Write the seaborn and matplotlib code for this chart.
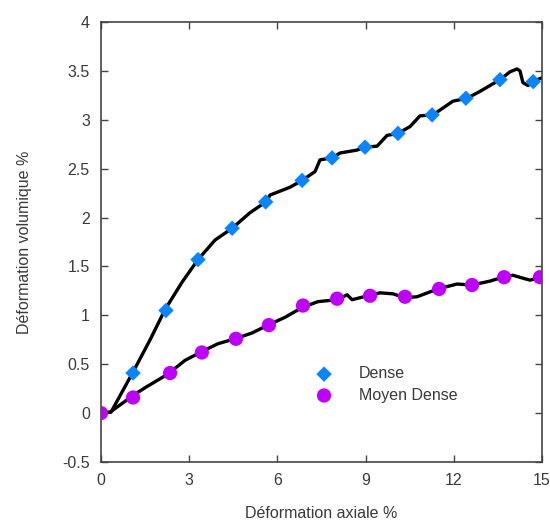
import matplotlib
matplotlib.use("Agg")
import matplotlib.pyplot as plt
import seaborn as sns
import pandas as pd

# Measured curves (axial strain %, volumetric strain %)
dense_curve_x = [0, 0.34, 1.09, 1.67, 2.18, 2.76, 3.30, 3.88, 4.46, 5.07, 5.61, 5.75,
                 6.43, 6.84, 7.28, 7.45, 7.86, 8.13, 8.71, 8.98, 9.39, 9.73, 10.10,
                 10.51, 10.85, 11.29, 11.97, 12.45, 12.89, 13.57, 13.91, 14.15, 14.25,
                 14.35, 14.52, 14.69, 15.0]
dense_curve_y = [0, 0.01, 0.42, 0.75, 1.06, 1.34, 1.57, 1.77, 1.89, 2.05, 2.16, 2.23,
                 2.31, 2.38, 2.47, 2.59, 2.61, 2.66, 2.69, 2.72, 2.73, 2.84, 2.86,
                 2.93, 3.04, 3.05, 3.19, 3.22, 3.29, 3.41, 3.49, 3.52, 3.50,
                 3.38, 3.35, 3.39, 3.43]

moyen_curve_x = [0, 0.31, 1.09, 1.50, 2.28, 2.86, 3.44, 3.98, 4.56, 5.14, 5.68, 6.26,
                 6.84, 7.38, 8.03, 8.37, 8.54, 9.08, 9.49, 9.93, 10.34, 10.75, 11.46,
                 12.11, 12.62, 13.23, 13.67, 14.01, 14.35, 14.59, 15.0]
moyen_curve_y = [0, 0.01, 0.18, 0.26, 0.40, 0.54, 0.63, 0.71, 0.76, 0.82, 0.90, 0.98,
                 1.08, 1.14, 1.16, 1.21, 1.16, 1.20, 1.23, 1.22, 1.18, 1.19, 1.27,
                 1.32, 1.31, 1.35, 1.39, 1.41, 1.38, 1.36, 1.39]

# Marker points for each state
dense_pts_x = [0, 1.09, 2.21, 3.30, 4.46, 5.60, 6.84, 7.86, 8.98, 10.10, 11.26, 12.41, 13.57, 14.70]
dense_pts_y = [0, 0.41, 1.05, 1.57, 1.89, 2.16, 2.38, 2.61, 2.72, 2.86, 3.05, 3.22, 3.41, 3.39]

moyen_pts_x = [0, 1.09, 2.35, 3.43, 4.59, 5.71, 6.87, 8.03, 9.15, 10.34, 11.50, 12.62, 13.71, 14.93]
moyen_pts_y = [0, 0.16, 0.41, 0.62, 0.76, 0.90, 1.10, 1.17, 1.20, 1.19, 1.27, 1.31, 1.39, 1.39]

x_ticks = [0, 3, 6, 9, 12, 15]
y_ticks = [-0.5, 0, 0.5, 1, 1.5, 2, 2.5, 3, 3.5, 4]
y_tick_labels = ["-0.5", "0", "0.5", "1", "1.5", "2", "2.5", "3", "3.5", "4"]

sns.set_theme(style="ticks")
plt.rcParams["font.family"] = ["Liberation Sans", "DejaVu Sans"]
text_color = "#3a3a3a"

fig = plt.figure(figsize=(5.5, 5.23), dpi=100)
ax = fig.add_axes([0.1836, 0.1166, 0.8019, 0.8414])

curves = pd.concat([
    pd.DataFrame({"x": dense_curve_x, "y": dense_curve_y, "s": "dense"}),
    pd.DataFrame({"x": moyen_curve_x, "y": moyen_curve_y, "s": "moyen"}),
])
sns.lineplot(data=curves, x="x", y="y", units="s", estimator=None, sort=False,
             color="black", linewidth=2.4, ax=ax, legend=False)

pts_dense = pd.DataFrame({"x": dense_pts_x, "y": dense_pts_y})
pts_moyen = pd.DataFrame({"x": moyen_pts_x, "y": moyen_pts_y})
sns.scatterplot(data=pts_dense, x="x", y="y", marker="D", s=62, color="#0A84FF",
                edgecolor="none", ax=ax, label="Dense", zorder=3)
sns.scatterplot(data=pts_moyen, x="x", y="y", marker="o", s=105, color="#BE00FA",
                edgecolor="none", ax=ax, label="Moyen Dense", zorder=4)

ax.set_xlim(0, 15)
ax.set_ylim(-0.5, 4)
ax.set_xticks(x_ticks)
ax.set_yticks(y_ticks)
ax.set_yticklabels(y_tick_labels)
ax.tick_params(direction="in", length=5, width=1, color="#444444",
               top=True, right=True, labelsize=11.5, labelcolor=text_color, pad=8)
for sp in ax.spines.values():
    sp.set_color("#444444")
    sp.set_linewidth(1.2)

ax.set_xlabel("Déformation axiale %", fontsize=11.5, color=text_color, labelpad=13)
ax.set_ylabel("Déformation volumique %", fontsize=11.5, color=text_color, labelpad=22)

leg = ax.legend(loc="upper left", bbox_to_anchor=(0.455, 0.232), frameon=False,
                fontsize=11.5, handletextpad=1.2, labelspacing=0.4,
                borderaxespad=0)
for t in leg.get_texts():
    t.set_color(text_color)

fig.savefig("out.png", dpi=100)
